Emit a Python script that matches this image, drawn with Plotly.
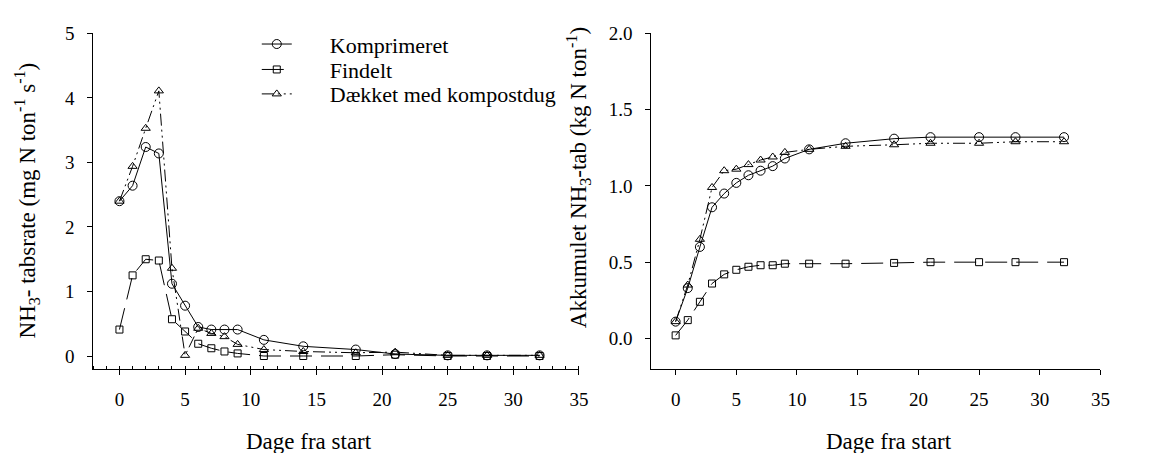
import plotly.graph_objects as go

# ---------------- data ----------------
days = [0, 1, 2, 3, 4, 5, 6, 7, 8, 9, 11, 14, 18, 21, 25, 28, 32]

series_names = ["Komprimeret", "Findelt", "Dækket med kompostdug"]

rate_komprimeret = [2.40, 2.64, 3.24, 3.14, 1.12, 0.78, 0.45, 0.41, 0.41, 0.41, 0.25, 0.15, 0.10, 0.03, 0.01, 0.01, 0.01]
rate_findelt = [0.41, 1.25, 1.50, 1.48, 0.57, 0.38, 0.19, 0.12, 0.07, 0.04, 0.00, 0.00, 0.00, 0.02, 0.00, 0.00, 0.00]
rate_daekket = [2.40, 2.94, 3.53, 4.11, 1.36, 0.01, 0.43, 0.35, 0.30, 0.18, 0.10, 0.07, 0.05, 0.06, 0.01, 0.01, 0.01]

cum_komprimeret = [0.11, 0.33, 0.60, 0.86, 0.95, 1.02, 1.07, 1.10, 1.13, 1.18, 1.24, 1.28, 1.31, 1.32, 1.32, 1.32, 1.32]
cum_findelt = [0.02, 0.12, 0.24, 0.36, 0.42, 0.45, 0.47, 0.48, 0.48, 0.49, 0.49, 0.49, 0.495, 0.50, 0.50, 0.50, 0.50]
cum_daekket = [0.11, 0.35, 0.65, 0.99, 1.10, 1.11, 1.14, 1.17, 1.19, 1.22, 1.24, 1.26, 1.27, 1.28, 1.28, 1.29, 1.29]

x_tick_vals = [0, 5, 10, 15, 20, 25, 30, 35]
left_y_ticks = [0, 1, 2, 3, 4, 5]
right_y_ticks = [0.0, 0.5, 1.0, 1.5, 2.0]

# ---------------- styles ----------------
FONT = "Liberation Serif"
W, H = 1162, 453
styles = [
    dict(symbol="circle-open", size=9, dash="solid"),
    dict(symbol="square-open", size=7, dash="22px,9px"),
    dict(symbol="triangle-up-open", size=8, dash="12px,4px,2px,4px,2px,4px"),
]
legend_ids = ["legend", "legend2", "legend3"]
legend_rows_px = [35, 61, 86]
pad = "\u00a0" * 6

fig = go.Figure()
rates = [rate_komprimeret, rate_findelt, rate_daekket]
cums = [cum_komprimeret, cum_findelt, cum_daekket]

for i, name in enumerate(series_names):
    st = styles[i]
    fig.add_trace(go.Scatter(
        x=days, y=rates[i], mode="lines+markers", name=pad + name,
        line=dict(color="black", width=1, dash=st["dash"]),
        marker=dict(symbol=st["symbol"], size=st["size"], color="black",
                    line=dict(color="black", width=1)),
        xaxis="x", yaxis="y", legend=legend_ids[i], showlegend=True,
    ))
for i, name in enumerate(series_names):
    st = styles[i]
    fig.add_trace(go.Scatter(
        x=days, y=cums[i], mode="lines+markers", name=name,
        line=dict(color="black", width=1, dash=st["dash"]),
        marker=dict(symbol=st["symbol"], size=st["size"], color="black",
                    line=dict(color="black", width=1)),
        xaxis="x2", yaxis="y2", showlegend=False,
    ))

ydom = [1 - 367 / H, 1 - 24 / H]
common_x = dict(
    range=[-2, 35], tickvals=x_tick_vals, ticks="outside", ticklen=5,
    tickwidth=1, tickcolor="black", showline=True, linecolor="black",
    linewidth=1, showgrid=False, zeroline=False,
    tickfont=dict(family=FONT, size=19, color="black"), ticklabelstandoff=8,
)
common_y = dict(
    ticks="outside", ticklen=5, tickwidth=1, tickcolor="black",
    showline=True, linecolor="black", linewidth=1, showgrid=False,
    zeroline=False, tickfont=dict(family=FONT, size=19, color="black"),
    ticklabelstandoff=9,
)

legend_common = dict(
    xanchor="left", yanchor="middle", font=dict(family=FONT, size=22, color="black"),
    bgcolor="rgba(0,0,0,0)", borderwidth=0, itemwidth=30, tracegroupgap=0,
)

layout = dict(
    width=W, height=H,
    margin=dict(l=0, r=0, t=0, b=0),
    paper_bgcolor="white", plot_bgcolor="white",
    font=dict(family=FONT, color="black"),
    xaxis=dict(domain=[94 / W, 584 / W], anchor="y",
               minor=dict(dtick=1, ticks="inside", ticklen=3, tickcolor="black", tickwidth=1),
               **common_x),
    yaxis=dict(domain=ydom, anchor="x", range=[-0.2, 5], tickvals=left_y_ticks, **common_y),
    xaxis2=dict(domain=[657 / W, 1110 / W], anchor="y2", **common_x),
    yaxis2=dict(domain=ydom, anchor="x2", range=[-0.2, 2.0], tickvals=right_y_ticks,
                tickformat=".1f", **common_y),
    showlegend=True,
)
for lid, ypx in zip(legend_ids, legend_rows_px):
    layout[lid] = dict(x=259 / W, y=1 - ypx / H, **legend_common)

fig.update_layout(**layout)

title_font = dict(family=FONT, size=23, color="black")
annos = [
    dict(text="NH<sub>3</sub>- tabsrate (mg N ton<sup>-1</sup> s<sup>-1</sup>)",
         x=27 / W, y=1 - 195 / H, textangle=-90),
    dict(text="Akkumulet NH<sub>3</sub>-tab (kg N ton<sup>-1</sup>)",
         x=583 / W, y=1 - 171 / H, textangle=-90),
    dict(text="Dage fra start", x=312 / W, y=1 - 441 / H),
    dict(text="Dage fra start", x=897 / W, y=1 - 441 / H),
]
for a in annos:
    fig.add_annotation(xref="paper", yref="paper", showarrow=False,
                       xanchor="center", yanchor="middle", font=title_font, **a)

fig.write_html("out.html")
